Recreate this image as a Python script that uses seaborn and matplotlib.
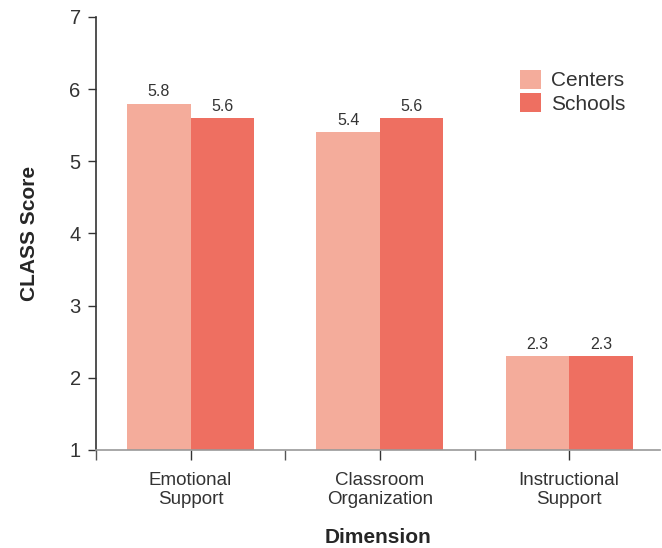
import numpy as np
import pandas as pd
import seaborn as sns
import matplotlib.pyplot as plt
from matplotlib.ticker import FixedLocator

# Data
dimensions = ['Emotional\nSupport', 'Classroom\nOrganization', 'Instructional\nSupport']
centers = [5.8, 5.4, 2.3]
schools = [5.6, 5.6, 2.3]
groups = ['Centers', 'Schools']
colors = ['#F4AC9B', '#EE6F61']

df = pd.DataFrame({
    'Dimension': dimensions * 2,
    'Score': centers + schools,
    'Setting': ['Centers'] * 3 + ['Schools'] * 3,
})

sns.set_style('white')
plt.rcParams['font.family'] = ['Liberation Sans', 'DejaVu Sans']

fig = plt.figure(figsize=(6.62, 5.48), dpi=100)
ax = fig.add_axes([0.145, 0.179, 0.852, 0.79])

sns.barplot(data=df, x='Dimension', y='Score', hue='Setting', hue_order=groups,
            palette=colors, width=0.67, gap=0, saturation=1, linewidth=0, ax=ax)

for cont in ax.containers:
    ax.bar_label(cont, fmt='%.1f', padding=3, fontsize=11.5, color='#333333')

ax.set_ylim(1, 7)
ax.set_xlim(-0.5, 2.48)
ax.set_yticks(range(1, 8))
ax.tick_params(axis='y', labelsize=14.5, colors='#333333', length=6, width=1, left=True, pad=5)
ax.tick_params(axis='x', labelsize=13.5, colors='#333333', length=7, width=1, bottom=True, pad=9)
ax.xaxis.set_minor_locator(FixedLocator([-0.5, 0.5, 1.5]))
ax.tick_params(axis='x', which='minor', length=7, width=1, color='#555555', bottom=True)
for lab in ax.get_xticklabels():
    lab.set_linespacing(1.15)

sns.despine(ax=ax)
ax.spines['left'].set_color('#333333')
ax.spines['left'].set_linewidth(1.2)
ax.spines['bottom'].set_color('#999999')
ax.spines['bottom'].set_linewidth(1.2)

ax.set_xlabel('Dimension', fontsize=15, fontweight='bold', labelpad=14)
ax.set_ylabel('CLASS Score', fontsize=15, fontweight='bold', labelpad=22)

leg = ax.legend(loc='upper left', bbox_to_anchor=(0.7855, 0.873),
                bbox_transform=fig.transFigure, frameon=False,
                fontsize=15, handlelength=1.0, handleheight=1.05,
                handletextpad=0.5, labelspacing=0.12, borderpad=0, borderaxespad=0)
for t in leg.get_texts():
    t.set_color('#333333')

fig.savefig('out.png', dpi=100)
